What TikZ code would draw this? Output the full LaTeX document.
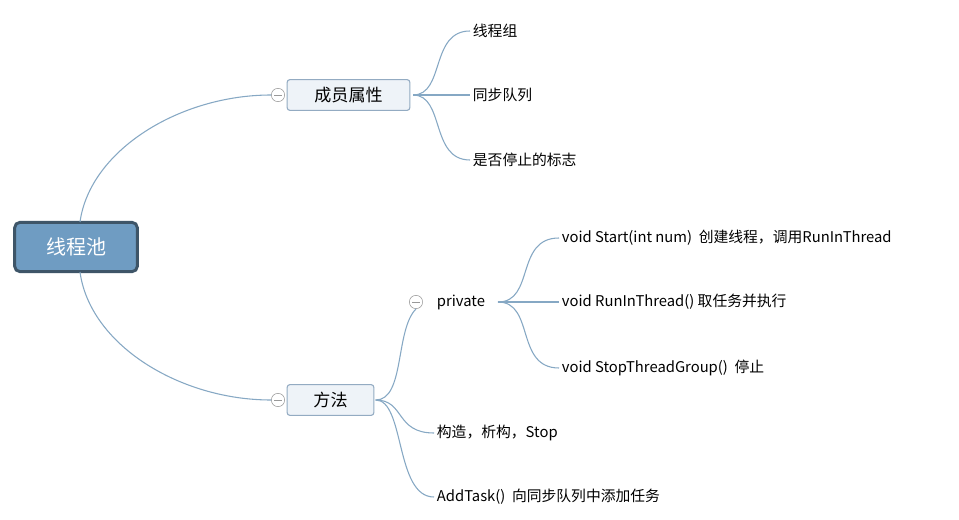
\documentclass[tikz,border=0pt]{standalone}
\usepackage{fontspec}
\setmainfont{Noto Sans CJK SC}
\definecolor{rootfill}{HTML}{6F9CC2}
\definecolor{rootline}{HTML}{3E5568}
\definecolor{topicfill}{HTML}{EEF3F8}
\definecolor{topicline}{HTML}{93ABC2}
\definecolor{branch}{HTML}{86A8C4}
\tikzset{
  rootbox/.style={draw=rootline, line width=2.2pt, fill=rootfill, rounded corners=4pt,
    minimum width=92pt, minimum height=37pt, text=white, font=\fontsize{15}{15}\selectfont},
  topicbox/.style={draw=topicline, line width=0.8pt, fill=topicfill, rounded corners=2pt,
    minimum height=23pt, font=\fontsize{12.8}{13}\selectfont},
  leaf/.style={anchor=west, inner sep=2pt, font=\fontsize{11.1}{12}\selectfont},
  fold/.style={circle, draw=gray!80, fill=white, minimum size=10pt, inner sep=0pt,
    path picture={\draw[gray!80, line width=0.6pt] ([xshift=-3pt]path picture bounding box.center) -- ([xshift=3pt]path picture bounding box.center);}},
  link/.style={draw=branch, line width=0.8pt}
}
\begin{document}
\begin{tikzpicture}[x=0.75pt,y=-0.75pt]
    \useasboundingbox[fill=white] (0,0) rectangle (959,520);

    % Main topics
    \node[rootbox] (pool) at (76,247) {线程池};
    \node[topicbox, minimum width=92pt] (members) at (348.5,95) {成员属性};
    \node[topicbox, minimum width=65pt] (methods) at (330.5,400) {方法};
    \node[fold] (foldM) at (278,95) {};
    \node[fold] (foldF) at (278,400) {};

    % Member leaves
    \node[leaf] (group) at (470,31) {线程组};
    \node[leaf] (queue) at (470,95) {同步队列};
    \node[leaf] (stopflag) at (470,160) {是否停止的标志};

    % Method leaves
    \node[fold] (foldP) at (416,302) {};
    \node[leaf] (private) at (434,302) {private};
    \node[leaf] (start) at (559,238) {void Start(int num)\ \ 创建线程，调用RunInThread};
    \node[leaf] (runin) at (559,302) {void RunInThread() 取任务并执行};
    \node[leaf] (stopgrp) at (559,368) {void StopThreadGroup()\ \ 停止};
    \node[leaf] (ctor) at (434,433) {构造，析构，Stop};
    \node[leaf] (addtask) at (434,497) {AddTask()\ \ 向同步队列中添加任务};

    % Connectors
    \coordinate (poolTop) at (80,222);
    \coordinate (poolBot) at (80,272);
    \path[link] (poolTop) .. controls (90,150) and (180,95) .. (foldM.west);
    \path[link] (poolBot) .. controls (90,345) and (180,400) .. (foldF.west);

    \coordinate (mOut) at ([xshift=2pt]members.east);
    \path[link] (mOut) .. controls (445,95) and (430,31) .. (group.west);
    \path[link] (mOut) -- (queue.west);
    \path[link] (mOut) .. controls (445,95) and (430,160) .. (stopflag.west);

    \coordinate (fOut) at ([xshift=1pt]methods.east);
    \path[link] (fOut) .. controls (405,400) and (395,330) .. (foldP.south);
    \path[link] (fOut) .. controls (405,400) and (395,433) .. (ctor.west);
    \path[link] (fOut) .. controls (405,400) and (395,497) .. (addtask.west);

    \coordinate (pOut) at (498,302);
    \path[link] (pOut) .. controls (535,302) and (515,238) .. (start.west);
    \path[link] (pOut) -- (runin.west);
    \path[link] (pOut) .. controls (535,302) and (515,368) .. (stopgrp.west);
\end{tikzpicture}
\end{document}
